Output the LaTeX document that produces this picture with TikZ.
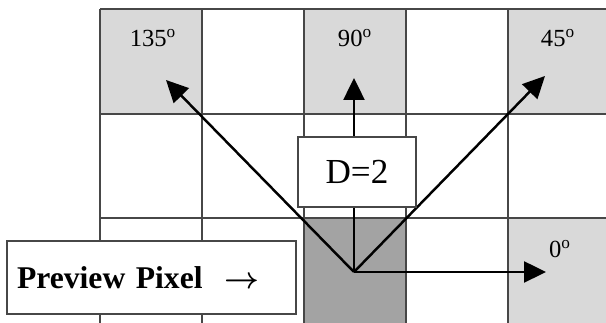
\documentclass[tikz,border=0pt]{standalone}
\usepackage{fontspec}
\setmainfont{Liberation Serif}
\usetikzlibrary{arrows.meta,positioning}
\definecolor{CellLight}{HTML}{D9D9D9}
\definecolor{CellDark}{HTML}{A3A3A3}
\definecolor{GridLine}{HTML}{474747}

\begin{document}
\begin{tikzpicture}[x=0.02cm, y=0.02cm,
  gridline/.style={draw=GridLine, line width=0.8pt},
  dirarrow/.style={-{Triangle[length=0.44cm,width=0.42cm]}, line width=1.4pt},
  anglabel/.style={font=\fontsize{14}{16}\selectfont},
  labelbox/.style={draw=GridLine, fill=white, line width=0.8pt}]
  \useasboundingbox (0,0) rectangle (606,323);
  % shaded cells
  \fill[CellLight] (100,209) rectangle (202,314);
  \fill[CellLight] (304,209) rectangle (406,314);
  \fill[CellLight] (508,209) rectangle (606,314);
  \fill[CellLight] (508,0) rectangle (606,105);
  \fill[CellDark] (304,0) rectangle (406,105);
  % grid
  \foreach \x in {100,202,304,406,508}
    \draw[gridline] (\x,0) -- (\x,314);
  \foreach \y in {105,209,314}
    \draw[gridline] (100,\y) -- (606,\y);
  % directions
  \coordinate (src) at (354,51);
  \coordinate (d0) at (546,51);
  \coordinate (d45) at (545,247);
  \coordinate (d90) at (354,245);
  \coordinate (d135) at (166,243);
  \draw[dirarrow] (src) -- (d0);
  \draw[dirarrow] (src) -- (d45);
  \draw[dirarrow] (src) -- (d90);
  \draw[dirarrow] (src) -- (d135);
  % angle labels
  \node[anglabel] (l135) at (153,285) {135\textsuperscript{o}};
  \node[anglabel] (l90) at (355,285) {90\textsuperscript{o}};
  \node[anglabel] (l45) at (558,285) {45\textsuperscript{o}};
  \node[anglabel] (l0) at (560,74) {0\textsuperscript{o}};
  % boxes
  \node[labelbox, minimum width=2.36cm, minimum height=1.4cm,
    font=\fontsize{20}{24}\selectfont] (dist) at (357,151) {D=2};
  \node[labelbox, minimum height=1.46cm, inner ysep=0pt, inner xsep=0.2cm,
    text width=5.38cm, align=left, font=\fontsize{18}{22}\selectfont\bfseries]
    (prev) at (151.5,45.5) {Preview Pixel\hspace{0.7em}{\boldmath$\rightarrow$}};
\end{tikzpicture}
\end{document}
